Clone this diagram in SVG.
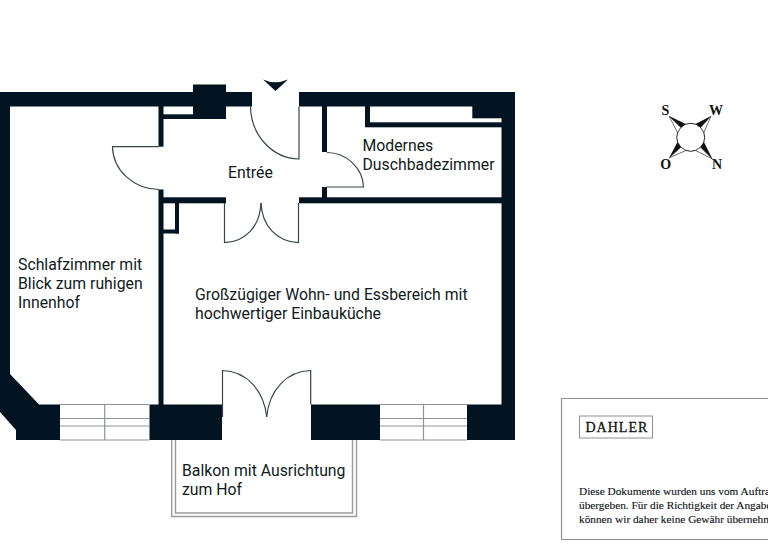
<svg xmlns="http://www.w3.org/2000/svg" width="768" height="560" viewBox="0 0 768 560">
<style>
.w{fill:#021321}
.d{fill:none;stroke:#3c444b;stroke-width:1.2}
.g{fill:none;stroke:#8f9396;stroke-width:1.2}
.b{fill:none;stroke:#9a9a9a;stroke-width:1.4}
.l{font-family:Roboto,"Liberation Sans",sans-serif;font-size:15.8px;fill:#111a20}
.c{font-family:"Liberation Serif",serif;font-size:14px;font-weight:bold;fill:#111;text-anchor:middle}
.s{font-family:"Liberation Serif",serif;font-size:11.3px;fill:#14181c;stroke:#14181c;stroke-width:.15}
</style>
<rect width="768" height="560" fill="#fff"/>
<g id="walls">
<rect class="w" x="0" y="92" width="252" height="14.500"/>
<rect class="w" x="193" y="84.500" width="33" height="34.500"/>
<path class="w" d="M299 92H515V405H501.500V106.500H299Z"/>
<path class="w" d="M0 92H10V374L39 404.500H60V440H16V430L0 412Z"/>
<rect class="w" x="158.500" y="106" width="5" height="40.700"/>
<rect class="w" x="163" y="114.300" width="30" height="4.700"/>
<rect class="w" x="158.500" y="189.500" width="5" height="216"/>
<rect class="w" x="163" y="197.300" width="63" height="6"/>
<rect class="w" x="175" y="203" width="4" height="30.500"/>
<rect class="w" x="163" y="229.500" width="16" height="4"/>
<rect class="w" x="299" y="197.300" width="203" height="6"/>
<rect class="w" x="322" y="106" width="5" height="46"/>
<rect class="w" x="322" y="187" width="5" height="11"/>
<rect class="w" x="365" y="106" width="5" height="21"/>
<rect class="w" x="365" y="122.300" width="137" height="5"/>
<rect class="w" x="472.300" y="106" width="30" height="12.300"/>
<rect class="w" x="149.500" y="404.500" width="72.500" height="35.500"/>
<rect class="w" x="311" y="404.500" width="69" height="35.500"/>
<rect class="w" x="467" y="404.500" width="48" height="35.500"/>
</g>
<g id="windows">
<path class="g" d="M60 404.500H149.500M60 418.500H149.500M60 426H149.500M60 440H149.500M104.700 404.500V440"/>
<path class="g" d="M380 404.500H467M380 418.500H467M380 426H467M380 440H467M423.500 404.500V440"/>
</g>
<g id="balcony">
<path class="b" d="M171.700 440V516.500H356.500V440"/>
<path class="b" d="M175.500 440V513H352.500V440"/>
</g>
<g id="doors">
<path class="d" d="M159 146.700H112.500C113 170 133 189 159 189.500"/>
<path class="d" d="M250.500 106.500C251 135 272 158.500 299 159V106.500"/>
<path class="d" d="M224.500 203V242.700C246 242 260 226 261 203"/>
<path class="d" d="M298.500 203V242.700C277 242 262 226 261 203"/>
<path class="d" d="M327 152.500C346 152.500 363 168 363.500 187H327"/>
<path class="d" d="M222.500 417V370.500C246 371 264 390 266.700 417"/>
<path class="d" d="M310.700 404.500V370.500C287 371 269 390 266.700 417"/>
</g>
<g id="entrance-marker">
<path fill="#021321" d="M263 79.500Q275 85 288 79.500L275.500 91Z"/>
</g>
<g id="compass">
<circle cx="690.700" cy="137.300" r="14" fill="#fff" stroke="#222" stroke-width="1"/>
<g stroke="#333" stroke-width="0.700" fill="#fff">
<path d="M669 116L680.800 127.400L677.500 132.500Z"/>
<path d="M711 116L700.600 127.400L703.900 132.500Z"/>
<path d="M669 158L680.800 147.200L685.900 150.500Z"/>
<path d="M712.500 159L700.600 147.200L695.500 150.500Z"/>
</g>
<g fill="#111">
<path d="M669 116L685.900 124.100L680.800 127.400Z"/>
<path d="M711 116L695.500 124.100L700.600 127.400Z"/>
<path d="M669 158L677.500 142.100L680.800 147.200Z"/>
<path d="M712.500 159L703.900 142.100L700.600 147.200Z"/>
</g>
<text class="c" x="665.500" y="115">S</text>
<text class="c" x="716" y="114.500">W</text>
<text class="c" x="665.700" y="169">O</text>
<text class="c" x="717" y="169">N</text>
</g>
<g id="room-schlafzimmer"><text class="l"><tspan x="18" y="270">Schlafzimmer mit</tspan><tspan x="18" y="289">Blick zum ruhigen</tspan><tspan x="18" y="308">Innenhof</tspan></text></g>
<g id="room-entree"><text class="l" x="228" y="177.500">Entrée</text></g>
<g id="room-bad"><text class="l"><tspan x="362.500" y="151">Modernes</tspan><tspan x="362.500" y="170">Duschbadezimmer</tspan></text></g>
<g id="room-wohnen"><text class="l"><tspan x="195" y="300">Großzügiger Wohn- und Essbereich mit</tspan><tspan x="195" y="319">hochwertiger Einbauküche</tspan></text></g>
<g id="room-balkon"><text class="l"><tspan x="182" y="476">Balkon mit Ausrichtung</tspan><tspan x="182" y="495">zum Hof</tspan></text></g>
<g id="info-box">
<path fill="none" stroke="#8f8f8f" stroke-width="1.200" d="M768 398.500H561.500V539.500H768"/>
<rect x="579.500" y="416" width="73" height="22" fill="none" stroke="#8f8f8f" stroke-width="1"/>
<text x="585.500" y="432" font-family="Liberation Serif,serif" font-size="14" letter-spacing="1" fill="#111" stroke="#111" stroke-width=".3">DAHLER</text>
<text class="s"><tspan x="579" y="495">Diese Dokumente wurden uns vom Auftra</tspan><tspan x="579" y="509">übergeben. Für die Richtigkeit der Angabe</tspan><tspan x="579" y="523">können wir daher keine Gewähr übernehm</tspan></text>
</g>
</svg>
